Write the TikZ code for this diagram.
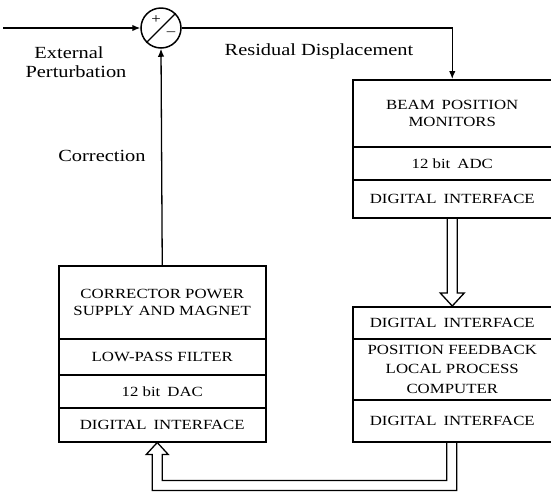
\documentclass[tikz,border=0pt]{standalone}
\usepackage{fontspec}
\setmainfont{Liberation Serif}[FakeStretch=1.2]
\usetikzlibrary{arrows.meta,calc}
\begin{document}
\begin{tikzpicture}[x=1pt,y=-1pt,
  sec/.style={draw, line width=1.5pt, anchor=north west, inner sep=0pt, align=center, font=\fontsize{14}{17.5}\selectfont},
  lbl/.style={inner sep=0pt, font=\fontsize{17}{19}\selectfont},
  conn/.style={line width=1.3pt, -{Latex[length=8pt,width=6.5pt]}},
  hollow/.style={line width=1.3pt, line join=miter}]
\useasboundingbox (0,0) rectangle (551,491);
% left block
\node[sec, minimum width=207pt, minimum height=73pt] (cps) at (58,265) {CORRECTOR POWER\\SUPPLY AND MAGNET};
\node[sec, minimum width=207pt, minimum height=36pt] (lpf) at (58,338) {LOW-PASS FILTER};
\node[sec, minimum width=207pt, minimum height=33pt] (dac) at (58,374) {12 bit\hspace{.5em}DAC};
\node[sec, minimum width=207pt, minimum height=34pt] (diL) at (58,407) {DIGITAL\hspace{.5em}INTERFACE};
% beam position monitors
\node[sec, minimum width=199pt, minimum height=67pt] (bpm) at (352,79) {BEAM\hspace{.5em}POSITION\\MONITORS};
\node[sec, minimum width=199pt, minimum height=33pt] (adc) at (352,146) {12 bit\hspace{.5em}ADC};
\node[sec, minimum width=199pt, minimum height=38pt] (diB) at (352,179) {DIGITAL\hspace{.5em}INTERFACE};
% local process computer
\node[sec, minimum width=199pt, minimum height=32pt] (diT) at (352,306) {DIGITAL\hspace{.5em}INTERFACE};
\node[sec, minimum width=199pt, minimum height=61pt, font=\fontsize{14}{19.5}\selectfont] (pfb) at (352,338) {POSITION FEEDBACK\\LOCAL PROCESS\\COMPUTER};
\node[sec, minimum width=199pt, minimum height=42pt] (diB2) at (352,399) {DIGITAL\hspace{.5em}INTERFACE};
% summing junction
\node[draw, circle, line width=1.5pt, minimum size=40pt, inner sep=0pt] (sum) at (161,28) {};
\draw[line width=1.3pt] (sum.225) -- (sum.45);
\node[inner sep=0pt, font=\fontsize{14}{14}\selectfont] (plus) at (156,20) {+};
\node[inner sep=0pt, font=\fontsize{14}{14}\selectfont] (minus) at (171,34) {--};
% labels
\node[lbl] (ext) at (69,53) {External};
\node[lbl] (pert) at (76,72) {Perturbation};
\node[lbl] (res) at (319,51) {Residual Displacement};
\node[lbl] (corr) at (102,156) {Correction};
% connectors
\coordinate (in) at (3,28);
\draw[conn] (in) -- (sum.west);
\draw[conn] (sum.east) -| (bpm.north);
\draw[conn] (cps.north) -- (sum.south);
% hollow arrow BPM -> computer
\draw[hollow] ($(diB.south)+(-5,0)$) -- ($(diT.north)+(-5,-13)$) -- ($(diT.north)+(-12,-13)$) -- (diT.north) -- ($(diT.north)+(12,-13)$) -- ($(diT.north)+(5,-13)$) -- ($(diB.south)+(5,0)$);
% hollow arrow computer -> corrector
\coordinate (t2) at ($(diL.south)+(-5,0)$);
\coordinate (s2) at ($(diB2.south)+(-0.5,0)$);
\draw[hollow] ($(s2)+(-5,0)$) |- ($(t2)+(5,38)$) -- ($(t2)+(5,12)$) -- ($(t2)+(11,12)$) -- (t2) -- ($(t2)+(-11,12)$) -- ($(t2)+(-5,12)$) |- ($(s2)+(5,48)$) -- ($(s2)+(5,0)$);
\end{tikzpicture}
\end{document}
